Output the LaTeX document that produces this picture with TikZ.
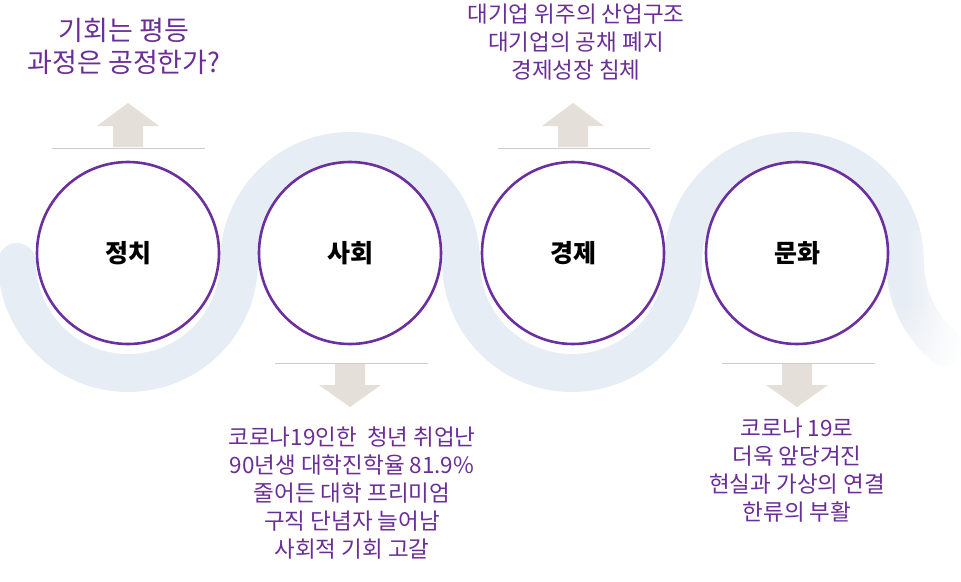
\documentclass[tikz,border=0pt]{standalone}
\usepackage{fontspec}
\setmainfont{Noto Sans CJK KR}
\usetikzlibrary{fadings}
\definecolor{band}{HTML}{E7EDF4}
\definecolor{arr}{HTML}{E4DFD8}
\definecolor{pur}{HTML}{6A2E96}
\definecolor{circ}{HTML}{6B2FA0}
\tikzset{
  c/.style={circle,draw=circ,line width=2.6pt,fill=white,minimum size=182pt,font=\fontsize{25}{27}\selectfont\bfseries},
  t/.style={text=pur,align=center},
  tb/.style={t,font=\fontsize{22.5}{28}\selectfont},
  sep/.style={draw=arr!80!gray,line width=0.6pt},
}
\begin{document}
\begin{tikzpicture}[x=1pt,y=-1pt]
\useasboundingbox (0,0) rectangle (961,581);
% band
\draw[band,line width=38pt,line cap=round] (17,262) arc[start angle=180,end angle=0,radius=111]
  arc[start angle=180,end angle=360,radius=111] arc[start angle=180,end angle=0,radius=111]
  arc[start angle=180,end angle=360,radius=111] arc[start angle=180,end angle=130,radius=111];
\fill[white,path fading=west] (905,230) rectangle (962,420);
\fill[white,path fading=north] (880,300) rectangle (962,420);
% separators
\coordinate (l1a) at (52,148); \coordinate (l1b) at (205,148);
\coordinate (l3a) at (498,148); \coordinate (l3b) at (650,148);
\coordinate (l2a) at (275,363); \coordinate (l2b) at (428,363);
\coordinate (l4a) at (722,363); \coordinate (l4b) at (875,363);
\draw[sep] (l1a)--(l1b); \draw[sep] (l3a)--(l3b);
\draw[sep] (l2a)--(l2b); \draw[sep] (l4a)--(l4b);
% arrows
\foreach \x in {128,573}{
 \fill[arr] (\x-15,147)--(\x-15,126)--(\x-31,126)--(\x,103)--(\x+31,126)--(\x+15,126)--(\x+15,147)--cycle;}
\foreach \x in {350,797}{
 \fill[arr] (\x-15,364)--(\x-15,385)--(\x-31,385)--(\x,407)--(\x+31,385)--(\x+15,385)--(\x+15,364)--cycle;}
% circles
\node[c] (a) at (128,253) {정치};
\node[c] (b) at (350,253) {사회};
\node[c] (d) at (573,253) {경제};
\node[c] (e) at (797,253) {문화};
% texts
\node[t,font=\fontsize{27}{32}\selectfont] (ta) at (124,46) {기회는 평등\\과정은 공정한가?};
\node[tb] (td) at (576,42) {대기업 위주의 산업구조\\대기업의 공채 폐지\\경제성장 침체};
\node[tb] (tbb) at (352,493) {코로나19인한 \ 청년 취업난\\90년생 대학진학율 81.9\%\\줄어든 대학 프리미엄\\구직 단념자 늘어남\\사회적 기회 고갈};
\node[tb] (te) at (797,470) {코로나 19로\\더욱 앞당겨진\\현실과 가상의 연결\\한류의 부활};
\end{tikzpicture}
\end{document}
